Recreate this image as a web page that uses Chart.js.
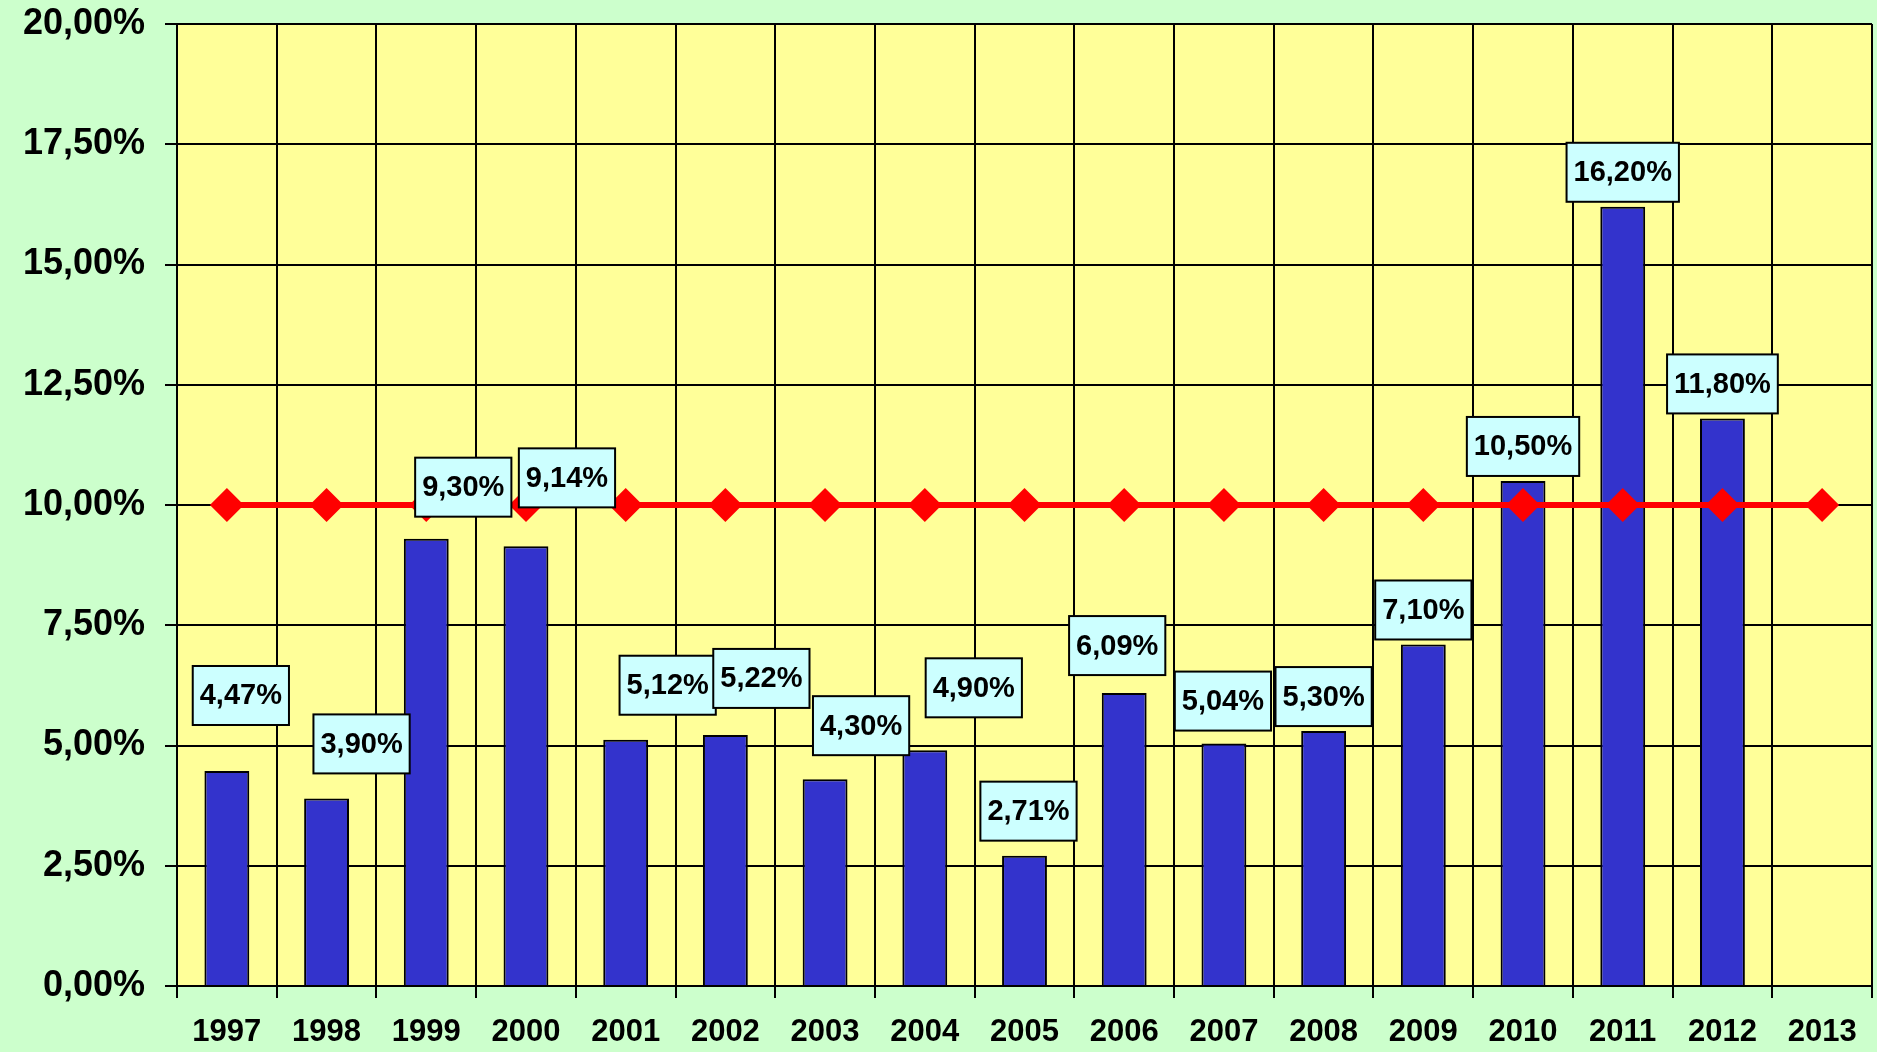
<!DOCTYPE html>
<html>
<head>
<meta charset="utf-8">
<script src="https://cdn.jsdelivr.net/npm/chart.js@4.4.0/dist/chart.umd.min.js"></script>
<style>
  html, body { margin: 0; padding: 0; background: #CCFFCC; }
  #wrap { width: 1877px; height: 1052px; }
</style>
</head>
<body>
<div id="wrap"><canvas id="grafico" width="1877" height="1052"></canvas></div>
<script>
const anos = ["1997", "1998", "1999", "2000", "2001", "2002", "2003", "2004", "2005",
              "2006", "2007", "2008", "2009", "2010", "2011", "2012", "2013"];
const taxas = [4.47, 3.90, 9.30, 9.14, 5.12, 5.22, 4.30, 4.90, 2.71,
               6.09, 5.04, 5.30, 7.10, 10.50, 16.20, 11.80, null];
const meta = [10, 10, 10, 10, 10, 10, 10, 10, 10, 10, 10, 10, 10, 10, 10, 10, 10];

// deslocamento manual dos rótulos (px), como no original
const rotuloDx = [14, 35, 37, 41, 42, 36, 36, 49, 4, -7, -1, 0, 0, 0, 0, 0, 0];
const rotuloDy = [41, 20, 17, 34, 20, 22, 19, 28, 10, 13, 8, 0, 0, 0, 0, 0, 0];

const fmt = (v) => v.toFixed(2).replace(".", ",") + "%";

const fundo = {
  id: "fundo",
  beforeDraw(chart) {
    const { ctx, chartArea: a } = chart;
    ctx.save();
    ctx.fillStyle = "#CCFFCC";
    ctx.fillRect(0, 0, chart.width, chart.height);
    ctx.fillStyle = "#FFFF99";
    ctx.fillRect(a.left, a.top, a.right - a.left, a.bottom - a.top);
    ctx.restore();
  }
};

const rotulos = {
  id: "rotulos",
  afterDatasetsDraw(chart) {
    const ctx = chart.ctx;
    const meta0 = chart.getDatasetMeta(0);
    ctx.save();
    ctx.font = "bold 29px 'Liberation Sans', Arial, sans-serif";
    ctx.textAlign = "center";
    ctx.textBaseline = "middle";
    meta0.data.forEach((bar, i) => {
      const v = taxas[i];
      if (v == null) return;
      const txt = fmt(v);
      const w = ctx.measureText(txt).width + 14;
      const h = 59;
      const cx = bar.x + rotuloDx[i];
      const bottom = bar.y - 5 - rotuloDy[i];
      ctx.fillStyle = "#CCFFFF";
      ctx.fillRect(cx - w / 2, bottom - h, w, h);
      ctx.lineWidth = 2;
      ctx.strokeStyle = "#000";
      ctx.strokeRect(cx - w / 2, bottom - h, w, h);
      ctx.fillStyle = "#000";
      ctx.fillText(txt, cx, bottom - h / 2 + 1);
    });
    ctx.restore();
  }
};

const ctx = document.getElementById("grafico").getContext("2d");
new Chart(ctx, {
  type: "bar",
  data: {
    labels: anos,
    datasets: [
      {
        type: "bar",
        data: taxas,
        backgroundColor: "#3333CC",
        borderColor: "#000",
        borderWidth: 2,
        barPercentage: 0.45,
        categoryPercentage: 1.0,
        order: 1
      },
      {
        type: "line",
        data: meta,
        borderColor: "#FF0000",
        borderWidth: 6,
        pointStyle: "rectRot",
        pointRadius: 17,
        pointBackgroundColor: "#FF0000",
        pointBorderWidth: 0,
        order: 0
      }
    ]
  },
  options: {
    responsive: false,
    devicePixelRatio: 1,
    animation: false,
    layout: { autoPadding: false, padding: { top: 24, right: 5, left: 0, bottom: 0 } },
    plugins: {
      legend: { display: false },
      tooltip: { enabled: false }
    },
    scales: {
      x: {
        grid: { offset: true, color: "#000", lineWidth: 2, tickLength: 12 },
        border: { color: "#000", width: 2 },
        ticks: {
          color: "#000",
          padding: 16,
          maxRotation: 0,
          autoSkip: false,
          font: { family: "'Liberation Sans', Arial, sans-serif", weight: "bold", size: 31 }
        },
        afterFit: (s) => { s.height = 66; s.paddingLeft = 0; s.paddingRight = 0; }
      },
      y: {
        min: 0,
        max: 20,
        grid: { color: "#000", lineWidth: 2, tickLength: 12 },
        border: { color: "#000", width: 2 },
        ticks: {
          stepSize: 2.5,
          color: "#000",
          padding: 20,
          callback: (v) => fmt(v),
          font: { family: "'Liberation Sans', Arial, sans-serif", weight: "bold", size: 36 }
        },
        afterFit: (s) => { s.width = 177; s.paddingTop = 0; s.paddingBottom = 0; }
      }
    }
  },
  plugins: [fundo, rotulos]
});
</script>
</body>
</html>
